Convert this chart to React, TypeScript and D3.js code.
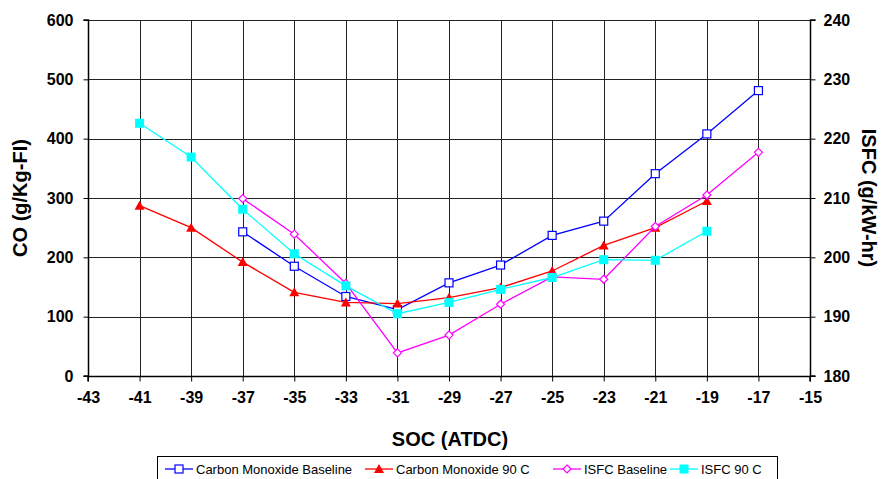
import React, { useRef, useEffect } from "react";
import * as d3 from "d3";

// SOC (ATDC) positions
const soc = [-41, -39, -37, -35, -33, -31, -29, -27, -25, -23, -21, -19, -17];

// left axis: CO (g/Kg-FI)
const coBaseline = [null, null, 243, 185, 134, 112, 157, 187, 237, 261, 341, 408, 481];
const co90 = [287, 250, 192, 141, 124, 122, 132, 149, 177, 220, 250, 295, null];

// right axis: ISFC (g/kW-hr)
const isfcBaseline = [null, null, 209.9, 203.9, 195.6, 183.9, 186.9, 192.1, 196.7, 196.3, 205.2, 210.5, 217.7];
const isfc90 = [222.6, 216.9, 208.1, 200.6, 195.2, 190.5, 192.4, 194.6, 196.6, 199.6, 199.5, 204.4, null];

const xTicks = [-43, -41, -39, -37, -35, -33, -31, -29, -27, -25, -23, -21, -19, -17, -15];
const leftTicks = [0, 100, 200, 300, 400, 500, 600];
const rightTicks = [180, 190, 200, 210, 220, 230, 240];

const legendLabels = ["Carbon Monoxide Baseline", "Carbon Monoxide 90 C", "ISFC Baseline", "ISFC 90 C"];

const W = 887;
const H = 479;

const App = () => {
  const svgRef = useRef(null);

  useEffect(() => {
    const svg = d3.select(svgRef.current);
    svg.selectAll("*").remove();

    const margin = { top: 20, right: 77, bottom: 103, left: 88 };
    const font = "'Liberation Sans', Arial, sans-serif";

    const x = d3.scaleLinear().domain([-43, -15]).range([margin.left, W - margin.right]);
    const yL = d3.scaleLinear().domain([0, 600]).range([H - margin.bottom, margin.top]);
    const yR = d3.scaleLinear().domain([180, 240]).range([H - margin.bottom, margin.top]);

    const x0 = x(-43), x1 = x(-15), yTop = yL(600), yBot = yL(0);

    // grid
    const grid = svg.append("g").attr("stroke", "#222").attr("stroke-width", 1);
    xTicks.slice(1, -1).forEach((t) => {
      grid.append("line").attr("x1", Math.round(x(t)) + 0.5).attr("x2", Math.round(x(t)) + 0.5)
        .attr("y1", yTop).attr("y2", yBot);
    });
    leftTicks.slice(1).forEach((t) => {
      grid.append("line").attr("x1", x0).attr("x2", x1)
        .attr("y1", Math.round(yL(t)) + 0.5).attr("y2", Math.round(yL(t)) + 0.5);
    });

    // axes (plain hyphen for negatives, like the original)
    const fmt = (d) => String(d);
    const axisX = svg.append("g")
      .attr("transform", `translate(0, ${Math.round(yBot) + 0.5})`)
      .call(d3.axisBottom(x).tickValues(xTicks).tickSize(5).tickPadding(10).tickFormat(fmt));
    const axisL = svg.append("g")
      .attr("transform", `translate(${Math.round(x0) + 0.5}, 0)`)
      .call(d3.axisLeft(yL).tickValues(leftTicks).tickSize(5).tickPadding(10).tickFormat(fmt));
    const axisR = svg.append("g")
      .attr("transform", `translate(${Math.round(x1) + 0.5}, 0)`)
      .call(d3.axisRight(yR).tickValues(rightTicks).tickSize(5).tickPadding(8).tickFormat(fmt));
    [axisX, axisL, axisR].forEach((a) => {
      a.select(".domain").attr("stroke", "#000").attr("stroke-width", 1.5);
      a.selectAll(".tick line").attr("stroke", "#000");
      a.selectAll("text").attr("font-family", font).attr("font-weight", "bold")
        .attr("font-size", 16).attr("fill", "#000");
    });
    axisL.select(".domain").attr("d", `M-5,${yTop}H0V${yBot}H-5`);
    axisR.select(".domain").attr("d", `M5,${yTop}H0V${yBot}H5`);
    axisX.select(".domain").attr("d", `M${x0},5V0H${x1}V5`);

    // axis titles
    svg.append("text").attr("x", 450).attr("y", 446).attr("text-anchor", "middle")
      .attr("font-family", font).attr("font-weight", "bold").attr("font-size", 20).text("SOC (ATDC)");
    svg.append("text").attr("transform", `translate(27, ${(yTop + yBot) / 2}) rotate(-90)`)
      .attr("text-anchor", "middle").attr("font-family", font).attr("font-weight", "bold")
      .attr("font-size", 20).text("CO (g/Kg-FI)");
    svg.append("text").attr("transform", `translate(862, ${(yTop + yBot) / 2}) rotate(90)`)
      .attr("text-anchor", "middle").attr("font-family", font).attr("font-weight", "bold")
      .attr("font-size", 20).text("ISFC (g/kW-hr)");

    const series = [
      { values: coBaseline, y: yL, color: "#0000FF", marker: "openSquare" },
      { values: co90, y: yL, color: "#FF0000", marker: "triangle" },
      { values: isfcBaseline, y: yR, color: "#FF00FF", marker: "diamond" },
      { values: isfc90, y: yR, color: "#00FFFF", marker: "filledSquare" },
    ];

    const drawMarker = (g, kind, color, cx, cy) => {
      if (kind === "openSquare") {
        g.append("rect").attr("x", cx - 4).attr("y", cy - 4).attr("width", 8).attr("height", 8)
          .attr("fill", "#fff").attr("stroke", color).attr("stroke-width", 1.2);
      } else if (kind === "filledSquare") {
        g.append("rect").attr("x", cx - 4.5).attr("y", cy - 4.5).attr("width", 9).attr("height", 9)
          .attr("fill", color);
      } else if (kind === "triangle") {
        g.append("path").attr("d", `M${cx},${cy - 5}L${cx + 5},${cy + 4}L${cx - 5},${cy + 4}Z`)
          .attr("fill", color);
      } else {
        g.append("path").attr("d", `M${cx},${cy - 4}L${cx + 4},${cy}L${cx},${cy + 4}L${cx - 4},${cy}Z`)
          .attr("fill", "#fff").attr("stroke", color).attr("stroke-width", 1.2);
      }
    };

    series.forEach((s) => {
      const pts = soc.map((d, i) => [d, s.values[i]]).filter((p) => p[1] !== null);
      const line = d3.line().x((p) => x(p[0])).y((p) => s.y(p[1]));
      svg.append("path").datum(pts).attr("fill", "none").attr("stroke", s.color)
        .attr("stroke-width", 1.3).attr("d", line);
      const g = svg.append("g");
      pts.forEach((p) => drawMarker(g, s.marker, s.color, x(p[0]), s.y(p[1])));
    });

    // legend
    const lg = svg.append("g");
    lg.append("rect").attr("x", 157.5).attr("y", 456.5).attr("width", 620).attr("height", 30)
      .attr("fill", "#fff").attr("stroke", "#000").attr("stroke-width", 1);
    const itemX = [165, 365, 553, 670];
    series.forEach((s, i) => {
      const lx = itemX[i];
      lg.append("line").attr("x1", lx).attr("x2", lx + 28).attr("y1", 469).attr("y2", 469)
        .attr("stroke", s.color).attr("stroke-width", 1.3);
      drawMarker(lg, s.marker, s.color, lx + 14, 469);
      lg.append("text").attr("x", lx + 31).attr("y", 474).attr("font-family", font)
        .attr("font-size", 13).attr("fill", "#000").text(legendLabels[i]);
    });
  }, []);

  return (
    <svg ref={svgRef} width={W} height={H}
      style={{ position: "absolute", left: 0, top: 0, background: "#fff" }}></svg>
  );
};

export default App;
